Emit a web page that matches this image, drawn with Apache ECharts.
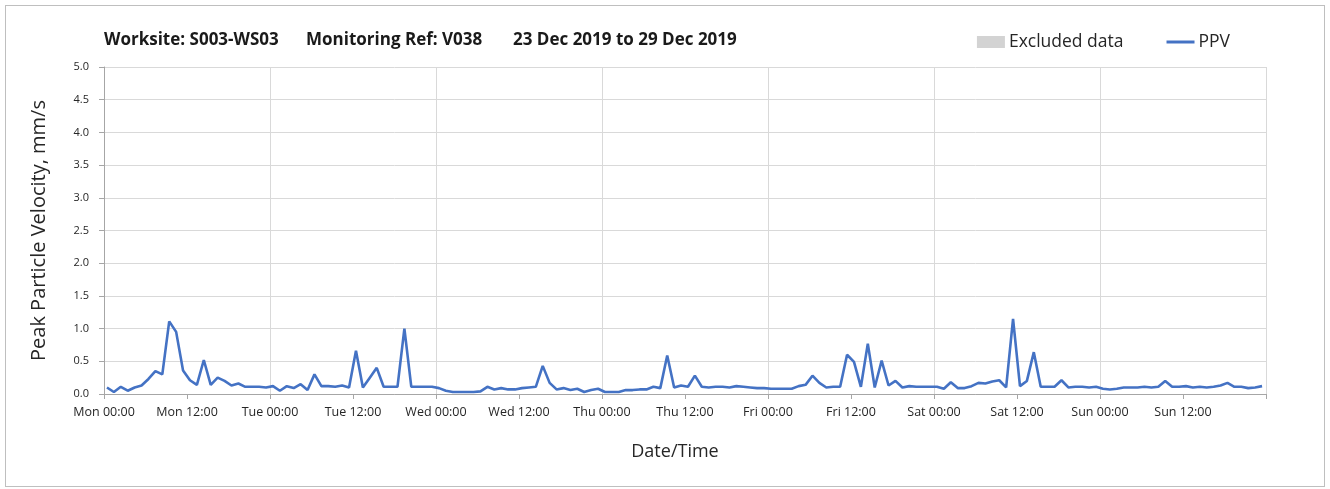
<!DOCTYPE html>
<html>
<head>
<meta charset="utf-8">
<script src="https://cdn.jsdelivr.net/npm/echarts@6/dist/echarts.min.js"></script>
<style>
html,body{margin:0;padding:0;background:#fff;}
#frame{position:absolute;left:5px;top:5px;width:1320px;height:482px;border:1px solid #bfbfbf;box-sizing:border-box;}
#chart{position:absolute;left:0;top:0;width:1330px;height:489px;}
</style>
</head>
<body>
<div id="frame"></div>
<div id="chart"></div>
<script>
// Hourly PPV readings (mm/s), one array per day, Mon 23 Dec – Sun 29 Dec 2019
const mon = [0.10,0.03,0.11,0.05,0.10,0.13,0.23,0.35,0.30,1.11,0.95,0.36,0.21,0.14,0.52,0.14,0.25,0.20,0.13,0.16,0.11,0.11,0.11,0.10];
const tue = [0.12,0.05,0.12,0.09,0.15,0.06,0.30,0.12,0.12,0.11,0.13,0.10,0.66,0.10,0.25,0.40,0.11,0.11,0.11,1.00,0.11,0.11,0.11,0.11];
const wed = [0.09,0.05,0.03,0.03,0.03,0.03,0.04,0.11,0.07,0.09,0.07,0.07,0.09,0.10,0.11,0.43,0.17,0.07,0.09,0.06,0.08,0.03,0.06,0.08];
const thu = [0.03,0.03,0.03,0.06,0.06,0.07,0.07,0.11,0.09,0.59,0.10,0.13,0.11,0.28,0.11,0.10,0.11,0.11,0.10,0.12,0.11,0.10,0.09,0.09];
const fri = [0.08,0.08,0.08,0.08,0.12,0.14,0.28,0.17,0.10,0.11,0.11,0.60,0.49,0.11,0.77,0.10,0.51,0.13,0.20,0.10,0.12,0.11,0.11,0.11];
const sat = [0.11,0.08,0.18,0.09,0.09,0.12,0.17,0.16,0.19,0.21,0.10,1.15,0.12,0.20,0.64,0.11,0.11,0.11,0.21,0.10,0.11,0.11,0.10,0.11];
const sun = [0.08,0.07,0.08,0.10,0.10,0.10,0.11,0.10,0.11,0.20,0.11,0.11,0.12,0.10,0.11,0.10,0.11,0.13,0.17,0.11,0.11,0.09,0.10,0.12];
const dayNames = ['Mon','Tue','Wed','Thu','Fri','Sat','Sun'];
const sampleOffsetHours = 0.43; // readings logged at ~hh:26
const titleParts = ['Worksite: S003-WS03','Monitoring Ref: V038','23 Dec 2019 to 29 Dec 2019'];
const yTicks = {min:0,max:5,interval:0.5};

const ppv = [mon,tue,wed,thu,fri,sat,sun].flat();
const ppvData = ppv.map((v,i)=>[i+sampleOffsetHours, v]);

const FONT = '"Open Sans", Lato, sans-serif';
const chart = echarts.init(document.getElementById('chart'), null, {renderer:'canvas'});
chart.setOption({
  animation:false,
  backgroundColor:'transparent',
  textStyle:{fontFamily:FONT},
  title: titleParts.map((t,k)=>({
    text:t, left:[104,306,513][k], top:32, padding:0,
    textStyle:{fontFamily:FONT,fontSize:17,fontWeight:'bold',color:'#1a1a1a'}
  })),
  legend:{
    right:100, top:33, itemGap:43, itemWidth:28, itemHeight:12, padding:0,
    textStyle:{fontFamily:FONT,fontSize:17.5,color:'#262626',padding:[0,0,0,-1]},
    data:[
      {name:'Excluded data', icon:'rect'},
      {name:'PPV', icon:'path://M0,0 L28,0 L28,3 L0,3 Z'}
    ]
  },
  grid:{left:104,right:64,top:67,bottom:95,containLabel:false},
  xAxis:[{
    type:'value', min:0, max:168, interval:12,
    name:'Date/Time', nameLocation:'middle', nameGap:49,
    nameTextStyle:{fontFamily:FONT,fontSize:18,color:'#262626',padding:[0,20,0,0]},
    axisLine:{show:true,lineStyle:{color:'#a6a6a6',width:1}},
    axisTick:{show:true,length:5,lineStyle:{color:'#a6a6a6'}},
    axisLabel:{fontFamily:FONT,fontSize:12.5,color:'#262626',margin:12,
      formatter:v=>{ if(v>=168) return ''; const d=Math.floor(v/24); const h=v%24; return dayNames[d]+' '+(h===0?'00:00':'12:00'); }},
    splitLine:{show:false}
  },{
    type:'value', min:0, max:168, interval:24, position:'bottom',
    axisLine:{show:false}, axisTick:{show:false}, axisLabel:{show:false},
    splitLine:{show:true,lineStyle:{color:'#d9d9d9',width:1}}
  }],
  yAxis:{
    type:'value', min:yTicks.min, max:yTicks.max, interval:yTicks.interval,
    name:'Peak Particle Velocity, mm/s', nameLocation:'middle', nameGap:55,
    nameTextStyle:{fontFamily:FONT,fontSize:20,color:'#262626'},
    axisLine:{show:true,lineStyle:{color:'#a6a6a6',width:1}},
    axisTick:{show:true,length:5,lineStyle:{color:'#a6a6a6'}},
    axisLabel:{fontFamily:FONT,fontSize:11,color:'#262626',margin:15,formatter:v=>v.toFixed(1)},
    splitLine:{show:true,lineStyle:{color:'#d9d9d9',width:1}}
  },
  series:[
    {name:'Excluded data', type:'bar', data:[], itemStyle:{color:'#d3d3d3'}},
    {name:'PPV', type:'line', data:ppvData, showSymbol:false, symbol:'none',
     lineStyle:{color:'#4472c4',width:2.6}, itemStyle:{color:'#4472c4'}}
  ]
});
</script>
</body>
</html>
